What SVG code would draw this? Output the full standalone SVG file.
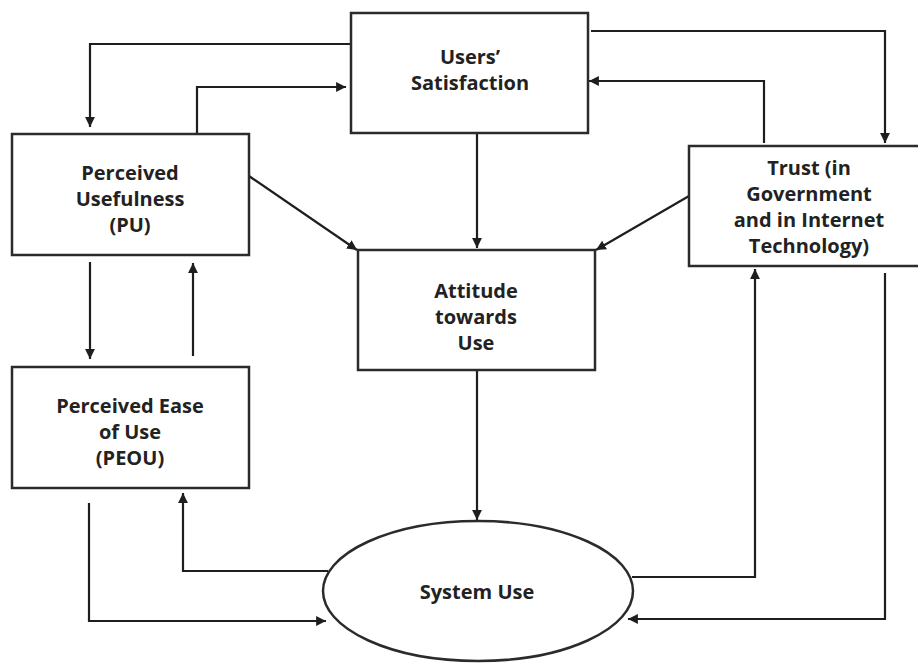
<svg xmlns="http://www.w3.org/2000/svg" width="918" height="664" viewBox="0 0 918 664">
  <style>
    .box { fill: #ffffff; stroke: #2b2b2b; stroke-width: 2.5; }
    .lbl { font-family: "Open Sans", "Liberation Sans", sans-serif; font-weight: 700; font-size: 20px; fill: #222222; text-anchor: middle; }
    .edge { fill: none; stroke: #1e1e1e; stroke-width: 2.2; }
  </style>
  <defs>
    <marker id="arrow" viewBox="0 0 10 10" refX="10" refY="5" markerWidth="4.5" markerHeight="4.5" orient="auto" markerUnits="strokeWidth">
      <path d="M0,0 L10,5 L0,10 z" fill="#1e1e1e"/>
    </marker>
  </defs>

  <rect width="918" height="664" fill="#ffffff"/>

  <!-- connectors -->
  <g id="connectors">
    <!-- Users' Satisfaction -> PU -->
    <path class="edge" d="M351,44 H90 V127" marker-end="url(#arrow)"/>
    <!-- PU -> Users' Satisfaction -->
    <path class="edge" d="M197,134 V87 H346" marker-end="url(#arrow)"/>
    <!-- PU -> Attitude -->
    <path class="edge" d="M249,176 L357,250" marker-end="url(#arrow)"/>
    <!-- Users' Satisfaction -> Attitude -->
    <path class="edge" d="M477,133 V248" marker-end="url(#arrow)"/>
    <!-- Users' Satisfaction -> Trust -->
    <path class="edge" d="M591,31 H885 V143" marker-end="url(#arrow)"/>
    <!-- Trust -> Users' Satisfaction -->
    <path class="edge" d="M764,143 V81 H589" marker-end="url(#arrow)"/>
    <!-- Trust -> Attitude -->
    <path class="edge" d="M689,196 L596,250" marker-end="url(#arrow)"/>
    <!-- PU -> PEOU -->
    <path class="edge" d="M90,262 V359" marker-end="url(#arrow)"/>
    <!-- PEOU -> PU -->
    <path class="edge" d="M193,356 V263" marker-end="url(#arrow)"/>
    <!-- Attitude -> System Use -->
    <path class="edge" d="M477,366 V520" marker-end="url(#arrow)"/>
    <!-- System Use -> PEOU -->
    <path class="edge" d="M328,571 H183 V493" marker-end="url(#arrow)"/>
    <!-- PEOU -> System Use -->
    <path class="edge" d="M89,503 V621 H326" marker-end="url(#arrow)"/>
    <!-- System Use -> Trust -->
    <path class="edge" d="M632,577 H755 V269" marker-end="url(#arrow)"/>
    <!-- Trust -> System Use -->
    <path class="edge" d="M885,273 V619 H628" marker-end="url(#arrow)"/>
  </g>

  <!-- nodes -->
  <g id="users-satisfaction">
    <rect class="box" x="351" y="13" width="237" height="120"/>
    <text class="lbl" x="470" y="64">Users’</text>
    <text class="lbl" x="470" y="90">Satisfaction</text>
  </g>

  <g id="perceived-usefulness">
    <rect class="box" x="12" y="134" width="237" height="121"/>
    <text class="lbl" x="130" y="180">Perceived</text>
    <text class="lbl" x="130" y="206">Usefulness</text>
    <text class="lbl" x="130" y="232">(PU)</text>
  </g>

  <g id="attitude">
    <rect class="box" x="358" y="250" width="237" height="120"/>
    <text class="lbl" x="476" y="298">Attitude</text>
    <text class="lbl" x="476" y="324">towards</text>
    <text class="lbl" x="476" y="350">Use</text>
  </g>

  <g id="trust">
    <rect class="box" x="689" y="146" width="240" height="120"/>
    <text class="lbl" x="809" y="175">Trust (in</text>
    <text class="lbl" x="809" y="201">Government</text>
    <text class="lbl" x="809" y="227">and in Internet</text>
    <text class="lbl" x="809" y="253">Technology)</text>
  </g>

  <g id="perceived-ease-of-use">
    <rect class="box" x="12" y="367" width="237" height="121"/>
    <text class="lbl" x="130" y="413">Perceived Ease</text>
    <text class="lbl" x="130" y="439">of Use</text>
    <text class="lbl" x="130" y="465">(PEOU)</text>
  </g>

  <g id="system-use">
    <ellipse class="box" cx="478" cy="591" rx="155" ry="70"/>
    <text class="lbl" x="477" y="599">System Use</text>
  </g>
</svg>
